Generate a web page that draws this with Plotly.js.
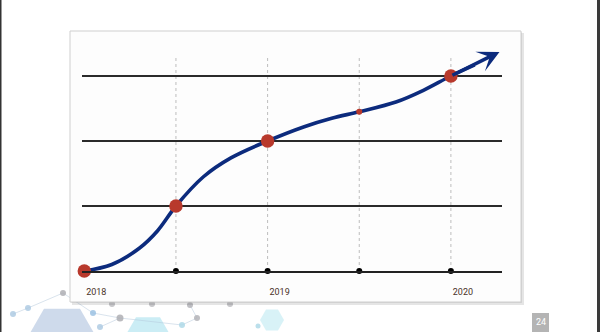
<!DOCTYPE html>
<html>
<head>
<meta charset="utf-8">
<script src="https://cdn.plot.ly/plotly-3.0.1.min.js"></script>
<style>
  html, body { margin: 0; padding: 0; background: #ffffff; }
  #chart { width: 600px; height: 332px; }
</style>
</head>
<body>
<div id="chart"></div>
<script>
// Growth curve, sampled along its path (year, level)
const curveYears  = [2018, 2018.15, 2018.3, 2018.4, 2018.5, 2018.65, 2018.8, 2019, 2019.2, 2019.35, 2019.5, 2019.7, 2019.85, 2020, 2020.13];
const curveLevels = [0, 0.1, 0.35, 0.62, 1.0, 1.45, 1.74, 2.0, 2.22, 2.35, 2.45, 2.6, 2.78, 3.0, 3.17];

// Arrow head where the curve leaves the chart
const arrowTip = { year: 2020.265, level: 3.37 };

// Milestones (large red dots) and the mid-2019 checkpoint (small red dot)
const milestoneYears  = [2018, 2018.5, 2019, 2020];
const milestoneLevels = [0, 1, 2, 3];
const checkpointYears  = [2019.5];
const checkpointLevels = [2.45];

// Half-year markers on the time line
const markerYears = [2018.5, 2019, 2019.5, 2020];

// Axis labels
const tickYears  = [2018, 2019, 2020];
const tickLabels = ['2018', '2019', '2020'];
const levelGrid  = [1, 2, 3];

const NAVY = '#0c2b7d';
const RED  = '#b8392c';

const traces = [
  {
    x: curveYears, y: curveLevels, type: 'scatter', mode: 'lines',
    line: { color: NAVY, width: 3.6, shape: 'spline', smoothing: 1 },
    cliponaxis: false, hoverinfo: 'skip'
  },
  {
    x: markerYears, y: markerYears.map(() => 0), type: 'scatter', mode: 'markers',
    marker: { color: '#000000', size: 6 }, cliponaxis: false, hoverinfo: 'skip'
  },
  {
    x: checkpointYears, y: checkpointLevels, type: 'scatter', mode: 'markers',
    marker: { color: RED, size: 6 }, cliponaxis: false, hoverinfo: 'skip'
  },
  {
    x: milestoneYears, y: milestoneLevels, type: 'scatter', mode: 'markers',
    marker: { color: RED, size: 13.5 }, cliponaxis: false, hoverinfo: 'skip'
  }
];

// Figure and plot-area geometry (paper coordinates span the plot area only)
const W = 600, H = 332;
const M = { l: 82, r: 98, t: 40, b: 61 };
const PW = W - M.l - M.r, PH = H - M.t - M.b;
const X_PER_YEAR = 183.3, Y_PER_LEVEL = 65;
const X_START = 2018 - 2.3 / X_PER_YEAR;
const px = v => (v - M.l) / PW;
const py = v => (H - M.b - v) / PH;

function rectPx(x0, y0, x1, y1, style) {
  return Object.assign({ type: 'rect', xref: 'paper', yref: 'paper', layer: 'below',
    x0: px(x0), x1: px(x1), y0: py(y1), y1: py(y0) }, style);
}
function hexPath(cx, cy, r) {
  let d = '';
  for (let i = 0; i < 6; i++) {
    const a = Math.PI / 3 * i;
    const x = px(cx + r * Math.cos(a));
    const y = py(cy + r * Math.sin(a));
    d += (i === 0 ? 'M' : 'L') + x + ',' + y;
  }
  return d + 'Z';
}
function dotPx(cx, cy, r, color) {
  return { type: 'circle', xref: 'paper', yref: 'paper', layer: 'below',
    x0: px(cx - r), x1: px(cx + r), y0: py(cy + r), y1: py(cy - r),
    fillcolor: color, line: { width: 0 } };
}
function linkPx(x0, y0, x1, y1) {
  return { type: 'line', xref: 'paper', yref: 'paper', layer: 'below',
    x0: px(x0), y0: py(y0), x1: px(x1), y1: py(y1),
    line: { color: 'rgba(180,200,220,0.5)', width: 1 } };
}

const shapes = [
  // network motif in the lower-left corner
  { type: 'path', xref: 'paper', yref: 'paper', layer: 'below', path: hexPath(62, 340, 36),
    fillcolor: 'rgba(190,205,228,0.75)', line: { width: 0 } },
  { type: 'path', xref: 'paper', yref: 'paper', layer: 'below', path: hexPath(148, 338, 24),
    fillcolor: 'rgba(190,232,242,0.8)', line: { width: 0 } },
  { type: 'path', xref: 'paper', yref: 'paper', layer: 'below', path: hexPath(272, 320, 12),
    fillcolor: 'rgba(200,236,244,0.7)', line: { width: 0 } },
  linkPx(13, 314, 28, 308), linkPx(28, 308, 63, 293), linkPx(63, 293, 93, 313),
  linkPx(93, 313, 120, 318), linkPx(120, 318, 100, 327), linkPx(120, 318, 182, 325),
  linkPx(182, 325, 197, 318), linkPx(197, 318, 190, 305),
  dotPx(13, 314, 3, 'rgba(170,200,225,0.8)'),
  dotPx(28, 308, 3, 'rgba(170,200,225,0.8)'),
  dotPx(63, 293, 3, 'rgba(170,170,175,0.8)'),
  dotPx(93, 313, 3, 'rgba(150,190,225,0.8)'),
  dotPx(120, 318, 3.5, 'rgba(170,170,175,0.8)'),
  dotPx(100, 327, 3, 'rgba(170,200,225,0.8)'),
  dotPx(182, 325, 3, 'rgba(170,215,230,0.8)'),
  dotPx(197, 318, 3, 'rgba(175,175,180,0.8)'),
  dotPx(190, 305, 3, 'rgba(175,175,180,0.8)'),
  dotPx(112, 304, 3, 'rgba(175,175,180,0.7)'),
  dotPx(152, 304, 3, 'rgba(175,175,180,0.7)'),
  dotPx(230, 304, 3, 'rgba(175,175,180,0.7)'),
  dotPx(258, 326, 2.5, 'rgba(170,215,230,0.8)'),

  // chart card with a soft drop shadow
  rectPx(72, 33, 524, 305, { fillcolor: 'rgba(0,0,0,0.10)', line: { width: 0 } }),
  rectPx(71, 32, 522, 303, { fillcolor: 'rgba(0,0,0,0.08)', line: { width: 0 } }),
  rectPx(70, 31, 521, 302, { fillcolor: '#fdfdfd', line: { color: '#cfcfcf', width: 1 } }),

  // slide edges
  rectPx(0, 0, 1.5, 332, { fillcolor: '#333333', line: { width: 0 } }),
  rectPx(597, 0, 600, 332, { fillcolor: '#3a3a3a', line: { width: 0 } }),

  // page number badge
  rectPx(532, 313, 549, 332, { fillcolor: '#b4b4b4', line: { width: 0 } })
];

// dashed guides at each half-year marker
markerYears.forEach(yr => {
  shapes.push({ type: 'line', xref: 'x', yref: 'y', layer: 'below',
    x0: yr, x1: yr, y0: 0, y1: 3.3,
    line: { color: '#bdbdbd', width: 1, dash: '3px,3px' } });
});

const annotations = [
  {
    x: arrowTip.year, y: arrowTip.level,
    ax: curveYears[curveYears.length - 2], ay: curveLevels[curveLevels.length - 2],
    xref: 'x', yref: 'y', axref: 'x', ayref: 'y',
    text: '', showarrow: true, arrowhead: 3, arrowsize: 1.0, arrowwidth: 3.6,
    arrowcolor: NAVY, standoff: 0, startstandoff: 0
  },
  {
    x: px(540.5), y: py(322), xref: 'paper', yref: 'paper',
    xanchor: 'center', yanchor: 'middle',
    text: '24', showarrow: false, borderpad: 0,
    font: { family: 'Roboto, Arial, sans-serif', size: 9, color: '#ffffff' }
  }
];

const layout = {
  width: W, height: H,
  margin: { l: M.l, r: M.r, t: M.t, b: M.b, pad: 0 },
  paper_bgcolor: '#ffffff',
  plot_bgcolor: 'rgba(0,0,0,0)',
  showlegend: false,
  xaxis: {
    range: [X_START, X_START + PW / X_PER_YEAR],
    tickmode: 'array', tickvals: tickYears, ticktext: tickLabels,
    ticks: '', showgrid: false, zeroline: false,
    showline: true, linecolor: '#222222', linewidth: 1.5,
    ticklabelshift: 12, ticklabelstandoff: 12,
    tickfont: { family: 'Roboto, Arial, sans-serif', size: 9, color: '#4a3228' },
    fixedrange: true
  },
  yaxis: {
    range: [0, PH / Y_PER_LEVEL],
    tickmode: 'array', tickvals: levelGrid,
    showticklabels: false, ticks: '',
    showgrid: true, gridcolor: '#2a2a2a', gridwidth: 1.5,
    zeroline: false, showline: false, fixedrange: true
  },
  shapes: shapes,
  annotations: annotations
};

Plotly.newPlot('chart', traces, layout, { displayModeBar: false, staticPlot: true });
</script>
</body>
</html>
